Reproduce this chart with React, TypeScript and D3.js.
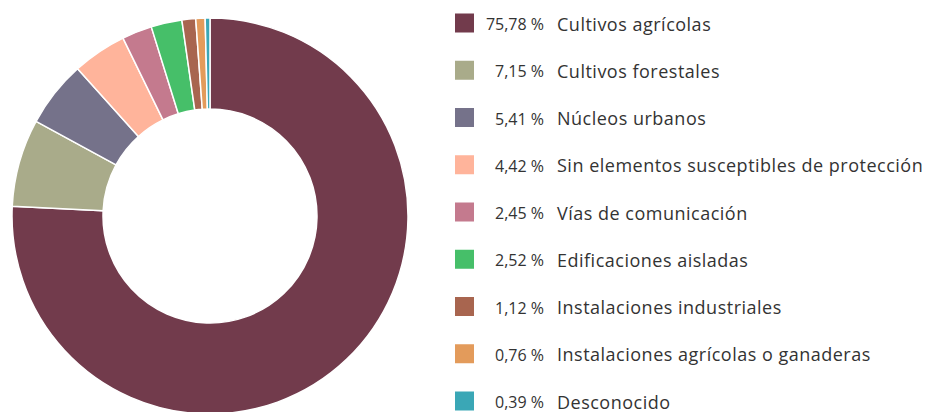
import { useEffect, useRef } from 'react';
import * as d3 from 'd3';

// Share of each land-use category (%), clockwise from 12 o'clock
const categories = [
  'Cultivos agrícolas',
  'Cultivos forestales',
  'Núcleos urbanos',
  'Sin elementos susceptibles de protección',
  'Vías de comunicación',
  'Edificaciones aisladas',
  'Instalaciones industriales',
  'Instalaciones agrícolas o ganaderas',
  'Desconocido',
];
const values = [75.78, 7.15, 5.41, 4.42, 2.45, 2.52, 1.12, 0.76, 0.39];
const valueLabels = ['75,78 %', '7,15 %', '5,41 %', '4,42 %', '2,45 %', '2,52 %', '1,12 %', '0,76 %', '0,39 %'];
const colors = ['#723b4c', '#a9ab8a', '#75728a', '#ffb49b', '#c47a8e', '#46bf69', '#a8654f', '#e39b5b', '#3aa7b6'];

const W = 928;
const H = 412;

export default function App() {
  const svgRef = useRef<SVGSVGElement | null>(null);

  useEffect(() => {
    if (!svgRef.current) return;
    const svg = d3.select(svgRef.current);
    svg.selectAll('*').remove();

    const cx = 210, cy = 216, outer = 198, inner = 107;

    const pie = d3.pie<number>().sort(null).value(d => d);
    const arc = d3.arc<d3.PieArcDatum<number>>().innerRadius(inner).outerRadius(outer);

    const g = svg.append('g').attr('transform', `translate(${cx},${cy})`);
    g.selectAll('path')
      .data(pie(values))
      .join('path')
      .attr('d', arc)
      .attr('fill', (_, i) => colors[i])
      .attr('stroke', '#fff')
      .attr('stroke-width', 1.5)
      .attr('stroke-linejoin', 'round');

    // Legend
    const y = d3.scalePoint<string>().domain(categories).range([23, 401]);
    const lg = svg.append('g');
    const rows = lg.selectAll('g.row')
      .data(categories)
      .join('g')
      .attr('class', 'row')
      .attr('transform', d => `translate(0,${y(d)})`);

    rows.append('rect')
      .attr('x', 455).attr('y', -9.5)
      .attr('width', 19).attr('height', 19)
      .attr('fill', (_, i) => colors[i]);

    rows.append('text')
      .attr('x', 544).attr('y', 7)
      .attr('text-anchor', 'end')
      .style('font-family', '"Open Sans", sans-serif')
      .style('font-size', '16px')
      .style('fill', '#333')
      .text((_, i) => valueLabels[i]);

    rows.append('text')
      .attr('x', 557).attr('y', 7.5)
      .style('font-family', '"Open Sans", sans-serif')
      .style('font-size', '18px')
      .style('letter-spacing', '0.5px')
      .style('fill', '#333')
      .text(d => d);
  }, []);

  return (
    <svg ref={svgRef} width={W} height={H}
      style={{ display: 'block', position: 'absolute', left: 0, top: 0, background: '#fff' }} />
  );
}
